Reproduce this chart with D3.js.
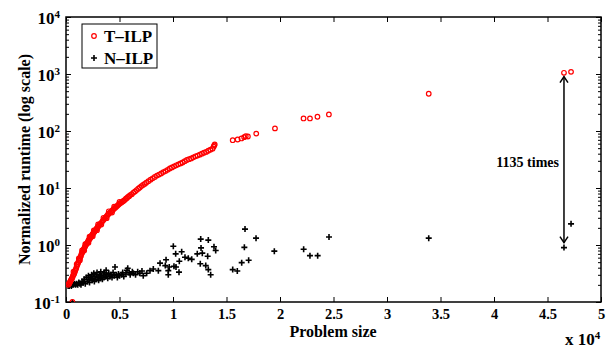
<!DOCTYPE html>
<html>
<head>
<meta charset="utf-8">
<script src="https://cdn.jsdelivr.net/npm/d3@7"></script>
<style>
  body { margin: 0; background: #fff; }
  text { font-family: "Liberation Serif", "Times New Roman", serif; font-weight: bold; }
</style>
</head>
<body>
<script>
// T-ILP runtimes: [problem size, normalized runtime]
const tIlp = [
  [200,0.2],[250,0.21],[300,0.21],[350,0.22],[400,0.23],[450,0.24],[500,0.25],[550,0.26],[600,0.27],[650,0.29],
  [700,0.3],[750,0.31],[800,0.33],[850,0.35],[900,0.37],[950,0.39],[1000,0.42],[1050,0.45],[1100,0.47],[1150,0.5],
  [1200,0.53],[1250,0.55],[1300,0.59],[1350,0.62],[1400,0.65],[1450,0.7],[1500,0.73],[1550,0.76],[1600,0.8],[1650,0.84],
  [1700,0.87],[1750,0.92],[1800,0.95],[1850,1.0],[1900,1.03],[1950,1.07],[2000,1.1],[2050,1.15],[2100,1.2],[2150,1.24],
  [2200,1.28],[2250,1.32],[2300,1.37],[2350,1.42],[2400,1.46],[2450,1.5],[2500,1.56],[2550,1.6],[2600,1.66],[2650,1.7],
  [2700,1.76],[2750,1.8],[2800,1.86],[2850,1.92],[2900,1.98],[2950,2.05],[3000,2.1],[3100,2.22],[3200,2.35],[3300,2.45],
  [3400,2.6],[3500,2.75],[3600,2.9],[3700,3.05],[3800,3.2],[3900,3.4],[4000,3.55],[4100,3.7],[4200,3.85],[4300,4.0],
  [4400,4.15],[4500,4.35],[4600,4.5],[4700,4.7],[4800,4.9],[4900,5.1],[5000,5.3],[5100,5.45],[5200,5.6],[5300,5.8],
  [5400,6.0],[5500,6.2],[5600,6.5],[5700,6.7],[5800,7.0],[5900,7.2],[6000,7.5],[6150,7.8],[6300,8.3],[6450,8.7],
  [6600,9.2],[6750,9.7],[6900,10.2],[7050,10.8],[7200,11.3],[7350,11.8],[7500,12.4],[7700,13.2],[7900,14],[8100,14.8],
  [8300,15.6],[8500,16.5],[8700,17.2],[8900,18],[9100,19],[9300,19.8],[9500,20.8],[9700,22],[9900,23],[10100,24],
  [10300,25],[10500,26],[10700,27],[10900,28],[11100,29.5],[11300,31],[11500,32],[11700,33],[11900,34.5],[12100,36],
  [12300,37],[12500,38.5],[12700,40],[12900,41.5],[13100,43],[13300,45],[13500,47],[13700,49],[13800,53],[13850,56],[13900,58],
  [700,0.34],[1000,0.46],[1200,0.58],[1500,0.8],[1800,1.04],[2200,1.4],[2600,1.8],[3000,2.3],[3500,3.0],[4000,3.9],
  [4500,4.7],[5000,5.7],[1300,0.54],[1700,0.8],[2100,1.1],[2500,1.42],[2900,1.82],[3300,2.28],[3800,2.95],[4300,3.7],
  [15580,69],[16040,71],[16400,74],[16650,78],[16800,81],[17000,80],[17780,90],[19530,111],
  [22200,166],[22800,166],[23500,178],[24570,195],[33900,450],[46540,1050],[47200,1090],[600,0.1]
];

// N-ILP runtimes: [problem size, normalized runtime]
const nIlp = [
  [200,0.19],[300,0.19],[400,0.2],[500,0.19],[600,0.2],[700,0.2],[800,0.21],[900,0.2],[1000,0.21],[1100,0.2],
  [1200,0.22],[1300,0.21],[1400,0.2],[1500,0.23],[1600,0.22],[1700,0.25],[1800,0.21],[1900,0.27],[2000,0.23],[2100,0.29],
  [2150,0.25],[2200,0.22],[2300,0.27],[2400,0.3],[2450,0.24],[2500,0.26],[2600,0.32],[2650,0.23],[2700,0.28],[2800,0.25],
  [2850,0.3],[2900,0.33],[3000,0.27],[3050,0.24],[3100,0.3],[3200,0.26],[3250,0.34],[3300,0.29],[3400,0.25],[3500,0.31],
  [3550,0.27],[3600,0.33],[3700,0.28],[3750,0.36],[3800,0.3],[3900,0.26],[4000,0.32],[4100,0.28],[4200,0.3],[4300,0.27],
  [4400,0.33],[4580,0.41],[4500,0.29],[4700,0.3],[4800,0.27],[4900,0.31],[5000,0.29],[5200,0.3],[5300,0.33],[5400,0.28],
  [5600,0.31],[5700,0.36],[5770,0.39],[5900,0.33],[6000,0.3],[6200,0.34],[6300,0.32],[6500,0.3],[6700,0.34],[6900,0.32],
  [7100,0.35],[7220,0.29],[7540,0.32],[7850,0.355],[8160,0.38],[8630,0.355],[8790,0.48],[9280,0.435],[9350,0.55],[9560,0.355],
  [9650,0.41],[9560,0.30],[10030,0.95],[10090,0.425],[10250,0.70],[10280,0.41],[10560,0.334],[10590,0.52],[10810,0.76],[11120,0.61],
  [11430,0.585],[11750,0.56],[12270,0.70],[12550,0.47],[12590,1.27],[12620,0.89],[12740,0.72],[13060,0.435],[13240,0.635],[13300,1.22],
  [13300,0.37],[13520,0.30],[13830,0.93],[13990,0.80],[15580,0.37],[16010,0.35],[16420,0.49],[16670,0.91],[16730,1.9],[17070,0.54],
  [17760,1.32],[19470,0.78],[22210,0.84],[22800,0.65],[23520,0.65],[24580,1.38],[33900,1.32],[46540,0.9],[47200,2.35],[600,0.1]
];

const xTicks = [0, 5000, 10000, 15000, 20000, 25000, 30000, 35000, 40000, 45000, 50000];
const yTicks = [0.1, 1, 10, 100, 1000, 10000];
const yMinor = [];
yTicks.slice(0, -1).forEach(d => { for (let k = 2; k <= 9; k++) yMinor.push(d * k); });

const seriesNames = ['T\u2013ILP', 'N\u2013ILP'];
const gapLabel = '1135 times';
const gapAt = { x: 46540, low: 1.1, high: 900 };

const width = 613, height = 351;
const margin = { top: 17, right: 12, bottom: 49, left: 66 };

const svg = d3.select('body').append('svg')
  .attr('width', width)
  .attr('height', height);

const x = d3.scaleLinear()
  .domain([0, 50000])
  .range([margin.left, width - margin.right]);

const y = d3.scaleLog()
  .domain([0.1, 10000])
  .range([height - margin.bottom, margin.top]);

const plotW = width - margin.right - margin.left;
const plotH = height - margin.bottom - margin.top;

// clip
svg.append('defs').append('clipPath').attr('id', 'clip')
  .append('rect')
  .attr('x', margin.left).attr('y', margin.top)
  .attr('width', plotW).attr('height', plotH);

const styleTicks = g => g.selectAll('line').attr('stroke', '#000').attr('stroke-width', 1);

// bottom axis
svg.append('g')
  .attr('transform', `translate(0,${height - margin.bottom})`)
  .call(d3.axisBottom(x).tickValues(xTicks).tickSizeInner(-5).tickSizeOuter(0).tickPadding(7)
    .tickFormat(d => d / 1e4))
  .call(g => g.select('.domain').remove())
  .call(styleTicks)
  .call(g => g.selectAll('text').attr('fill', '#000').style('font-size', '14.5px'));

// top axis
svg.append('g')
  .attr('transform', `translate(0,${margin.top})`)
  .call(d3.axisTop(x).tickValues(xTicks).tickSizeInner(-5).tickSizeOuter(0).tickFormat(''))
  .call(g => g.select('.domain').remove())
  .call(styleTicks);

// left axis
const yLeft = svg.append('g')
  .attr('transform', `translate(${margin.left},0)`)
  .call(d3.axisLeft(y).tickValues(yTicks).tickSizeInner(-5).tickSizeOuter(0).tickFormat(''))
  .call(g => g.select('.domain').remove())
  .call(styleTicks);

yLeft.selectAll('.tick').append('text')
  .attr('x', -6)
  .attr('dy', '0.36em')
  .attr('text-anchor', 'end')
  .attr('fill', '#000')
  .style('font-size', '17px')
  .each(function(d) {
    const t = d3.select(this);
    t.append('tspan').text('10');
    t.append('tspan').attr('dy', '-0.55em').style('font-size', '11px').text(Math.round(Math.log10(d)));
  });

svg.append('g')
  .attr('transform', `translate(${margin.left},0)`)
  .call(d3.axisLeft(y).tickValues(yMinor).tickSizeInner(-3).tickSizeOuter(0).tickFormat(''))
  .call(g => g.select('.domain').remove())
  .call(styleTicks);

// right axis
svg.append('g')
  .attr('transform', `translate(${width - margin.right},0)`)
  .call(d3.axisRight(y).tickValues(yTicks).tickSizeInner(-5).tickSizeOuter(0).tickFormat(''))
  .call(g => g.select('.domain').remove())
  .call(styleTicks);

svg.append('g')
  .attr('transform', `translate(${width - margin.right},0)`)
  .call(d3.axisRight(y).tickValues(yMinor).tickSizeInner(-3).tickSizeOuter(0).tickFormat(''))
  .call(g => g.select('.domain').remove())
  .call(styleTicks);

// frame
svg.append('rect')
  .attr('x', margin.left).attr('y', margin.top)
  .attr('width', plotW).attr('height', plotH)
  .attr('fill', 'none').attr('stroke', '#000').attr('stroke-width', 1.5);

const plot = svg.append('g').attr('clip-path', 'url(#clip)');

// N-ILP plus markers
plot.append('g')
  .selectAll('path')
  .data(nIlp)
  .join('path')
  .attr('d', d => `M${x(d[0]) - 3},${y(d[1])}h6M${x(d[0])},${y(d[1]) - 3}v6`)
  .attr('stroke', '#000')
  .attr('stroke-width', 1.6)
  .attr('fill', 'none');

// T-ILP circles
plot.append('g')
  .selectAll('circle')
  .data(tIlp)
  .join('circle')
  .attr('cx', d => x(d[0]))
  .attr('cy', d => y(d[1]))
  .attr('r', 2.3)
  .attr('fill', 'none')
  .attr('stroke', '#ff0000')
  .attr('stroke-width', 1.2);

// annotation arrow
const ax = x(gapAt.x);
const yTop = y(gapAt.high), yBot = y(gapAt.low);
svg.append('line')
  .attr('x1', ax).attr('x2', ax)
  .attr('y1', yTop).attr('y2', yBot)
  .attr('stroke', '#000').attr('stroke-width', 1.5);
svg.append('path')
  .attr('d', `M${ax - 4},${yTop + 6}L${ax},${yTop}L${ax + 4},${yTop + 6}M${ax - 4},${yBot - 6}L${ax},${yBot}L${ax + 4},${yBot - 6}`)
  .attr('fill', 'none').attr('stroke', '#000').attr('stroke-width', 1.5);

svg.append('text')
  .attr('x', ax - 5)
  .attr('y', y(28))
  .attr('dy', '0.35em')
  .attr('text-anchor', 'end')
  .style('font-size', '14px')
  .text(gapLabel);

// axis labels
svg.append('text')
  .attr('x', 333)
  .attr('y', 337)
  .attr('text-anchor', 'middle')
  .style('font-size', '16px')
  .text('Problem size');

const xExp = svg.append('text')
  .attr('x', 565)
  .attr('y', 345)
  .style('font-size', '17px');
xExp.append('tspan').text('x 10');
xExp.append('tspan').attr('dy', '-0.55em').style('font-size', '11px').text('4');

svg.append('text')
  .attr('transform', `translate(30,${margin.top + plotH / 2}) rotate(-90)`)
  .attr('text-anchor', 'middle')
  .style('font-size', '16px')
  .text('Normalized runtime (log scale)');

// legend
const legend = svg.append('g');
legend.append('rect')
  .attr('x', 82).attr('y', 24)
  .attr('width', 75).attr('height', 44)
  .attr('fill', '#fff').attr('stroke', '#000').attr('stroke-width', 1);

legend.append('circle')
  .attr('cx', 94).attr('cy', 36).attr('r', 2.3)
  .attr('fill', 'none').attr('stroke', '#ff0000').attr('stroke-width', 1.2);
legend.append('path')
  .attr('d', 'M91,58h6M94,55v6')
  .attr('stroke', '#000').attr('stroke-width', 1.6);

legend.selectAll('text.lg')
  .data(seriesNames)
  .join('text')
  .attr('class', 'lg')
  .attr('x', 104)
  .attr('y', (d, i) => 36 + i * 22)
  .attr('dy', '0.35em')
  .style('font-size', '17px')
  .text(d => d);
</script>
</body>
</html>
